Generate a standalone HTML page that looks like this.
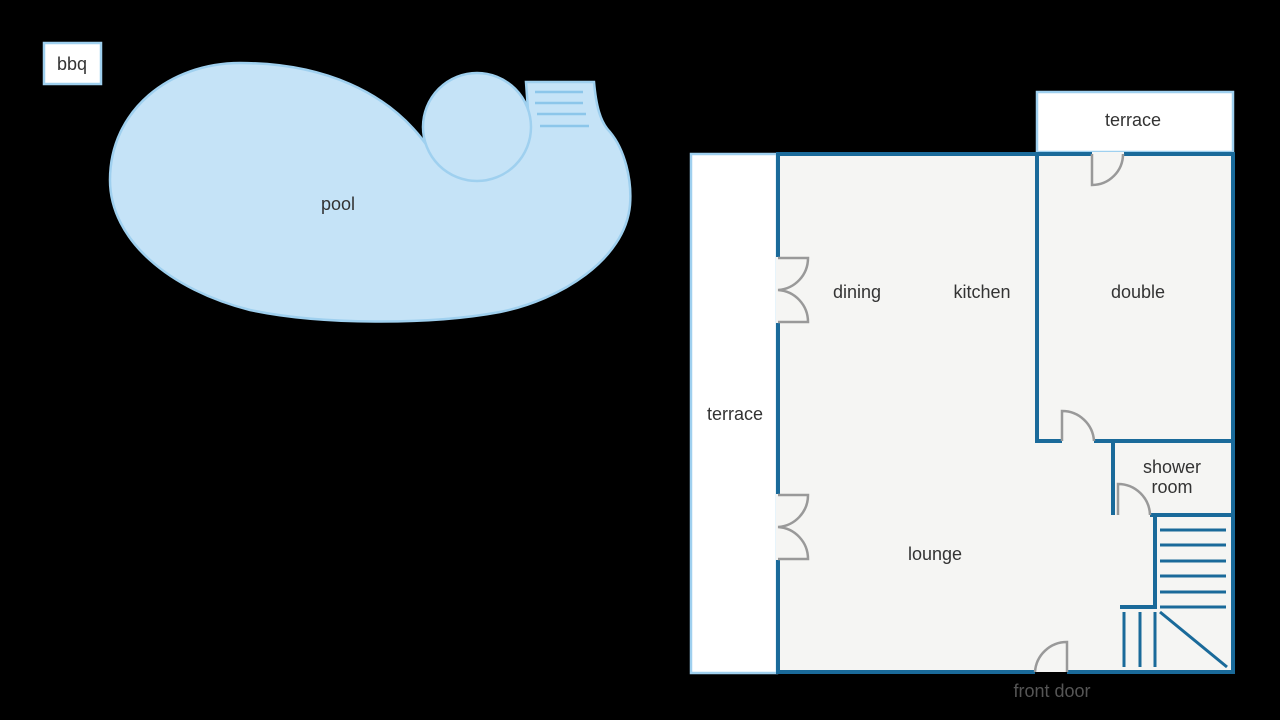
<!DOCTYPE html>
<html><head><meta charset="utf-8"><style>html,body{margin:0;padding:0;background:#000}svg{display:block}text{font-family:"Liberation Sans","DejaVu Sans",sans-serif;font-size:18px;fill:#333;text-anchor:middle}</style></head>
<body>
<svg width="1280" height="720" viewBox="0 0 1280 720" xmlns="http://www.w3.org/2000/svg">
<rect width="1280" height="720" fill="#000"/>
<!-- bbq -->
<rect x="44" y="43" width="57" height="41" fill="#fff" stroke="#9fd0ef" stroke-width="2.5"/>
<text x="72" y="70">bbq</text>
<!-- pool -->
<g fill="#c5e3f7" stroke="#9fd0ef" stroke-width="2.5">
<path d="M110,180 C110,110 170,63 240,63 C320,63 390,90 430,150 L480,170 L528,110 L526,82 L594,82 C596,105 600,122 610,132 C625,150 632,180 630,205 C625,260 560,300 500,312 C430,325 320,325 250,310 C170,290 110,240 110,180 Z"/>
<circle cx="477" cy="127" r="54"/>
</g>
<g stroke="#8cc6ea" stroke-width="2.5">
<line x1="535" y1="92" x2="583" y2="92"/><line x1="535" y1="103" x2="583" y2="103"/>
<line x1="537" y1="114" x2="586" y2="114"/><line x1="540" y1="126" x2="589" y2="126"/>
</g>
<text x="338" y="210">pool</text>
<!-- terraces -->
<rect x="691" y="154" width="86" height="519" fill="#fff" stroke="#9fd0ef" stroke-width="2.5"/>
<rect x="1037" y="92" width="196" height="60" fill="#fff" stroke="#9fd0ef" stroke-width="2.5"/>
<!-- house -->
<rect x="776" y="154" width="457" height="518" fill="#f5f5f3"/>
<g stroke="#1a6a9a" stroke-width="4" fill="none">
<path d="M778,257 L778,154 L1233,154 L1233,672 L1067,672"/>
<path d="M1035,672 L778,672 L778,560"/>
<path d="M778,494 L778,323"/>
<path d="M1037,154 L1037,441 L1062,441"/>
<path d="M1094,441 L1233,441"/>
<path d="M1113,441 L1113,515"/>
<path d="M1150,515 L1233,515"/>
<path d="M1155,515 L1155,607 L1120,607"/>
</g>
<rect x="1092" y="152" width="32" height="5" fill="#f5f5f3"/>
<g stroke="#1a6a9a" stroke-width="3">
<line x1="1160" y1="530" x2="1226" y2="530"/><line x1="1160" y1="545" x2="1226" y2="545"/>
<line x1="1160" y1="561" x2="1226" y2="561"/><line x1="1160" y1="576" x2="1226" y2="576"/>
<line x1="1160" y1="592" x2="1226" y2="592"/><line x1="1160" y1="607" x2="1226" y2="607"/>
<line x1="1124" y1="612" x2="1124" y2="667"/><line x1="1140" y1="612" x2="1140" y2="667"/>
<line x1="1155" y1="612" x2="1155" y2="667"/>
<line x1="1160" y1="612" x2="1227" y2="667"/>
</g>
<!-- doors -->
<g stroke="#999" stroke-width="2.5" fill="none">
<path d="M1092,154 L1092,185 A31,31 0 0 0 1123,154"/>
<path d="M778,258 L808,258 A32,32 0 0 1 778,290 A32,32 0 0 1 808,322 L778,322"/>
<path d="M778,495 L808,495 A32,32 0 0 1 778,527 A32,32 0 0 1 808,559 L778,559"/>
<path d="M1062,441 L1062,411 A32,32 0 0 1 1094,441"/>
<path d="M1118,515 L1118,484 A32,32 0 0 1 1150,515"/>
<path d="M1067,672 L1067,642 A32,32 0 0 0 1035,672"/>
</g>
<text x="1133" y="126">terrace</text>
<text x="735" y="420">terrace</text>
<text x="857" y="298">dining</text>
<text x="982" y="298">kitchen</text>
<text x="1138" y="298">double</text>
<text x="1172" y="473">shower</text>
<text x="1172" y="493">room</text>
<text x="935" y="560">lounge</text>
<text x="1052" y="697" style="fill:#555">front door</text>
</svg>
</body></html>
